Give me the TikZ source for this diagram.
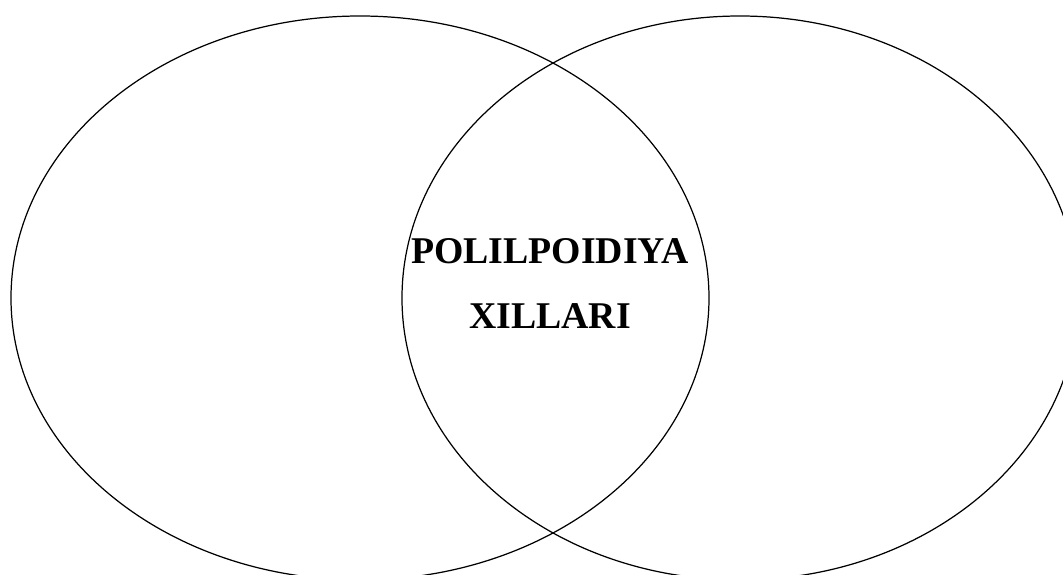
\documentclass[tikz,border=0pt]{standalone}
\usepackage{fontspec}
\setmainfont{Liberation Serif}
\usepackage{tikz}

\begin{document}
\begin{tikzpicture}[x=0.02cm,y=-0.02cm]
    \clip (0,0) rectangle (1063,575);
    \draw[line width=0.7pt] (360,298) ellipse (349 and 282); % left
    \draw[line width=0.7pt] (740,298) ellipse (338 and 282); % right
    \node[align=center,font=\fontsize{21.5}{37}\selectfont\bfseries] (title) at (550,283) {POLILPOIDIYA\\XILLARI};
\end{tikzpicture}
\end{document}
